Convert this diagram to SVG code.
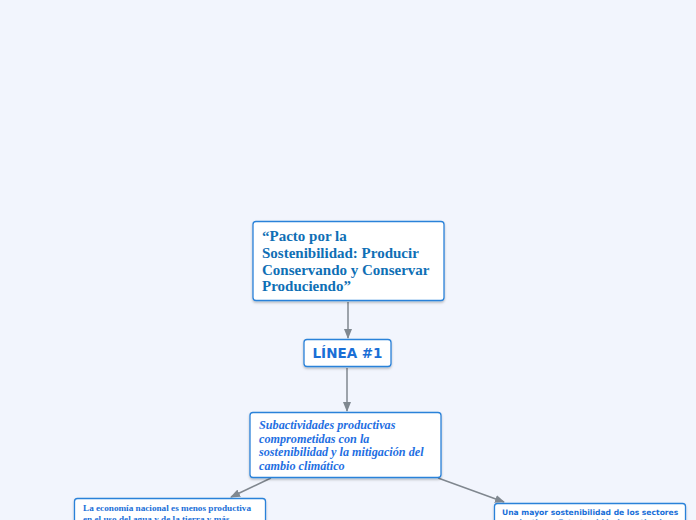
<svg xmlns="http://www.w3.org/2000/svg" width="696" height="520" viewBox="0 0 696 520">
<defs>
<marker id="arr" markerWidth="10" markerHeight="8" refX="9" refY="4" orient="auto" markerUnits="userSpaceOnUse">
<path d="M0,0 L10,4 L0,8 Z" fill="#808890"/>
</marker>
<filter id="sh" x="-10%" y="-10%" width="120%" height="130%">
<feDropShadow dx="0" dy="1.5" stdDeviation="1" flood-color="#000" flood-opacity="0.25"/>
</filter>
</defs>
<style>
.box{fill:#fff;stroke:#2b82d9;stroke-width:1.3;filter:url(#sh)}
.con{stroke:#80878f;stroke-width:1.5;fill:none;marker-end:url(#arr)}
.t1{font-family:"Liberation Serif",serif;font-weight:bold;font-size:15px;fill:#0f6fb5}
.t2{font-family:"DejaVu Sans",sans-serif;font-weight:bold;font-size:13.5px;fill:#1a6fd6}
.t3{font-family:"Liberation Serif",serif;font-weight:bold;font-style:italic;font-size:12.2px;fill:#1f6fe2}
.t4{font-family:"Liberation Serif",serif;font-weight:bold;font-size:9.2px;fill:#1a6fd8}
.t5{font-family:"DejaVu Sans",sans-serif;font-weight:bold;font-size:7.6px;fill:#1a6fd8}
</style>
<rect width="696" height="520" fill="#f2f5fd"/>
<g id="connectors">
<line class="con" x1="348" y1="302" x2="348" y2="338"/>
<line class="con" x1="347" y1="368" x2="347" y2="411"/>
<line class="con" x1="271" y1="478" x2="231" y2="497"/>
<line class="con" x1="438" y1="478" x2="504" y2="502"/>
</g>
<g id="n1">
<rect class="box" x="253" y="221.5" width="191" height="79" rx="3"/>
<text class="t1" x="262" y="241">“Pacto por la</text>
<text class="t1" x="262" y="258">Sostenibilidad: Producir</text>
<text class="t1" x="262" y="274.5">Conservando y Conservar</text>
<text class="t1" x="262" y="291">Produciendo”</text>
</g>
<g id="n2">
<rect class="box" x="304" y="339.5" width="87" height="27" rx="3"/>
<text class="t2" x="347.5" y="358" text-anchor="middle">LÍNEA #1</text>
</g>
<g id="n3">
<rect class="box" x="250" y="412.5" width="191" height="65" rx="3"/>
<text class="t3" x="259" y="429">Subactividades productivas</text>
<text class="t3" x="259" y="442.5">comprometidas con la</text>
<text class="t3" x="259" y="456">sostenibilidad y la mitigación del</text>
<text class="t3" x="259" y="469.5">cambio climático</text>
</g>
<g id="n4">
<rect class="box" x="74.5" y="498.5" width="191" height="40" rx="3"/>
<text class="t4" x="83" y="511">La economía nacional es menos productiva</text>
<text class="t4" x="83" y="522">en el uso del agua y de la tierra y más</text>
</g>
<g id="n5">
<rect class="box" x="494.5" y="503.5" width="191" height="40" rx="3"/>
<text class="t5" x="502" y="514.5">Una mayor sostenibilidad de los sectores</text>
<text class="t5" x="502" y="525">productivos. Esto también incentiva la</text>
</g>
</svg>
